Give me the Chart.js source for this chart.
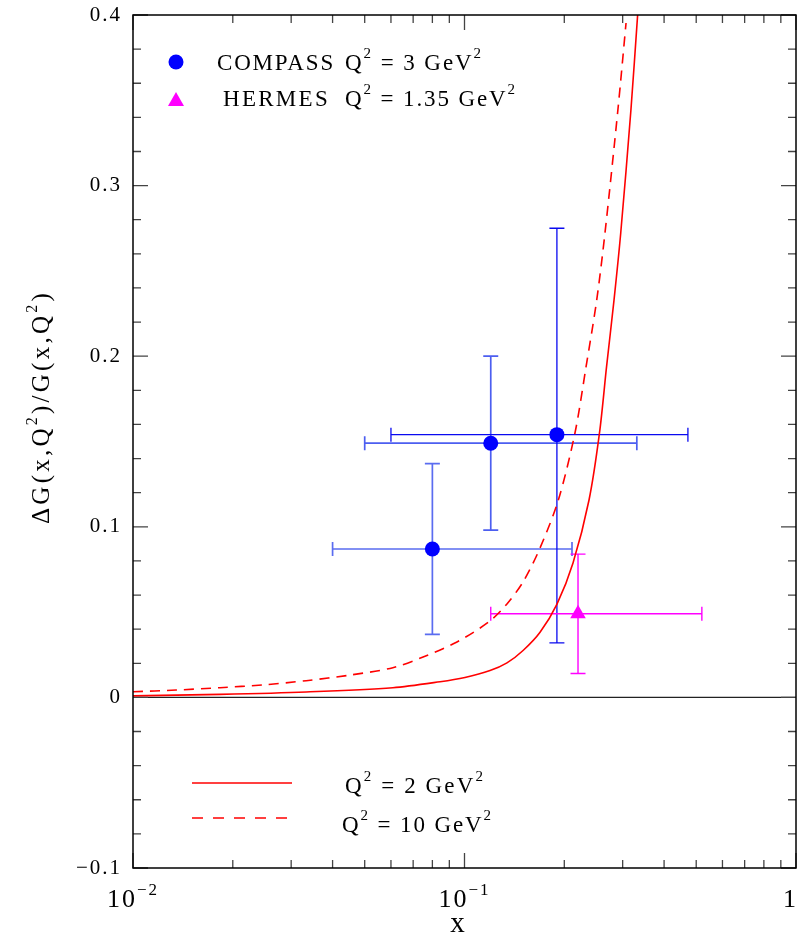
<!DOCTYPE html>
<html><head><meta charset="utf-8">
<script src="https://cdn.jsdelivr.net/npm/chart.js@4/dist/chart.umd.min.js"></script>
<style>html,body{margin:0;padding:0;background:#fff}#wrap{width:798px;height:937px}</style>
</head><body><div id="wrap"><canvas id="c" width="798" height="937"></canvas></div>
<script>
// ---- data ----
const compassX     = [0.080, 0.120, 0.190];
const compassY     = [0.087, 0.149, 0.154];
const compassXLow  = [0.040, 0.050, 0.060];
const compassXHigh = [0.211, 0.331, 0.472];
const compassYLow  = [0.037, 0.098, 0.032];
const compassYHigh = [0.137, 0.200, 0.275];

const hermesX     = [0.220];
const hermesY     = [0.049];
const hermesXLow  = [0.120];
const hermesXHigh = [0.520];
const hermesYLow  = [0.014];
const hermesYHigh = [0.084];

// Q^2 = 2 GeV^2 (solid)
const q2X = [0.010, 0.0183, 0.0333, 0.0608, 0.0844, 0.1003, 0.1194, 0.1343, 0.1502, 0.169, 0.1901, 0.2125, 0.2375, 0.2554, 0.2682, 0.2825, 0.296, 0.3177, 0.3331];
const q2Y = [0.0009, 0.0018, 0.0032, 0.0057, 0.0092, 0.0117, 0.0157, 0.0202, 0.0275, 0.0382, 0.0547, 0.0788, 0.1157, 0.155, 0.1937, 0.2329, 0.2722, 0.3443, 0.4009];
// Q^2 = 10 GeV^2 (dashed)
const q10X = [0.010, 0.0135, 0.0183, 0.0246, 0.0333, 0.0452, 0.0608, 0.075, 0.0949, 0.1194, 0.1343, 0.1502, 0.169, 0.1919, 0.2154, 0.2326, 0.2505, 0.2653, 0.2902, 0.3071];
const q10Y = [0.0033, 0.0043, 0.0057, 0.0073, 0.0098, 0.0131, 0.0174, 0.0237, 0.0325, 0.0448, 0.0548, 0.0677, 0.0876, 0.1157, 0.155, 0.1937, 0.2329, 0.2722, 0.3443, 0.3953];

const xTickValues = [0.01, 0.1, 1];
const xTickLabels = [['10', '\u22122'], ['10', '\u22121'], ['1', '']];
const yTickValues = [-0.1, 0, 0.1, 0.2, 0.3, 0.4];

// ---- styling ----
const FONT = '"Liberation Serif", "Times New Roman", serif';
const compassBarColors = ['#5a6cf0', '#4c5ef0', '#0a0af0'];
const compassBarWidths = [1.7, 1.7, 1.3];

function fontStr(sz){ return sz + 'px ' + FONT; }
function naturalWidth(ctx, parts, size, supSize){
  let w = 0, n = 0;
  ctx.letterSpacing = '0px';
  for (const [t, sup] of parts){ ctx.font = fontStr(sup ? supSize : size); w += ctx.measureText(t).width; n += t.length; }
  return {w, n};
}
function drawRich(ctx, parts, x, y, size, supSize, raise, target){
  const nat = naturalWidth(ctx, parts, size, supSize);
  const sp = target ? (target - nat.w) / Math.max(1, nat.n) : 0;
  for (const [t, sup] of parts){
    ctx.font = fontStr(sup ? supSize : size);
    ctx.letterSpacing = '0px';
    const w = ctx.measureText(t).width;
    ctx.letterSpacing = sp + 'px';
    ctx.fillText(t, x, y - (sup ? raise : 0));
    x += w + sp * t.length;
  }
  ctx.letterSpacing = '0px';
  return nat.w + sp * nat.n;
}
function pts(xs, ys){ return xs.map((x, i) => ({x, y: ys[i]})); }

const errorBars = {
  id: 'errorBars',
  beforeDatasetsDraw(chart){
    const {ctx, scales:{x, y}} = chart;
    ctx.save();
    ctx.strokeStyle = '#222'; ctx.lineWidth = 1.4;
    ctx.beginPath(); ctx.moveTo(chart.chartArea.left, y.getPixelForValue(0)); ctx.lineTo(chart.chartArea.right, y.getPixelForValue(0)); ctx.stroke();
    function bars(xs, ys, xl, xh, yl, yh, colors, widths){
      for (let i = 0; i < xs.length; i++){
        const px = x.getPixelForValue(xs[i]), py = y.getPixelForValue(ys[i]);
        const x0 = x.getPixelForValue(xl[i]), x1 = x.getPixelForValue(xh[i]);
        const y0 = y.getPixelForValue(yl[i]), y1 = y.getPixelForValue(yh[i]);
        ctx.strokeStyle = colors[i]; ctx.lineWidth = widths[i];
        ctx.beginPath();
        ctx.moveTo(x0, py); ctx.lineTo(x1, py);
        ctx.moveTo(x0, py - 7); ctx.lineTo(x0, py + 7);
        ctx.moveTo(x1, py - 7); ctx.lineTo(x1, py + 7);
        ctx.moveTo(px, y0); ctx.lineTo(px, y1);
        ctx.moveTo(px - 7.5, y0); ctx.lineTo(px + 7.5, y0);
        ctx.moveTo(px - 7.5, y1); ctx.lineTo(px + 7.5, y1);
        ctx.stroke();
      }
    }
    bars(compassX, compassY, compassXLow, compassXHigh, compassYLow, compassYHigh, compassBarColors, compassBarWidths);
    bars(hermesX, hermesY, hermesXLow, hermesXHigh, hermesYLow, hermesYHigh, ['#ff00ff'], [1.4]);
    ctx.restore();
  }
};

const frame = {
  id: 'frame',
  beforeDraw(chart){ chart.ctx.letterSpacing = '2px'; },
  afterDraw(chart){
    const {ctx, chartArea:a, scales:{x, y}} = chart;
    ctx.save();
    ctx.letterSpacing = '0px';
    ctx.strokeStyle = '#444'; ctx.lineWidth = 1.3;
    ctx.beginPath();
    for (let k = -2; k <= 0; k++){
      for (let m = 1; m <= 9; m++){
        const v = m * Math.pow(10, k);
        if (v > 1.0001) break;
        const px = x.getPixelForValue(v);
        const len = m === 1 ? 15 : 8;
        ctx.moveTo(px, a.bottom); ctx.lineTo(px, a.bottom - len);
        ctx.moveTo(px, a.top); ctx.lineTo(px, a.top + len);
      }
    }
    for (let i = 0; i <= 25; i++){
      const v = -0.1 + i * 0.02;
      const py = y.getPixelForValue(v);
      const len = i % 5 === 0 ? 15 : 8;
      ctx.moveTo(a.left, py); ctx.lineTo(a.left + len, py);
      ctx.moveTo(a.right, py); ctx.lineTo(a.right - len, py);
    }
    ctx.stroke();
    ctx.strokeStyle = '#000'; ctx.lineWidth = 1.5;
    ctx.strokeRect(a.left, a.top, a.right - a.left, a.bottom - a.top);

    ctx.fillStyle = '#000';
    ctx.textAlign = 'left'; ctx.textBaseline = 'alphabetic';
    xTickValues.forEach((v, i) => {
      const parts = [[xTickLabels[i][0], false]];
      if (xTickLabels[i][1]) parts.push([xTickLabels[i][1], true]);
      const nat = naturalWidth(ctx, parts, 26, 17).w + 2 * (parts[0][0].length + (parts[1] ? parts[1][0].length : 0));
      let left = x.getPixelForValue(v) - nat / 2;
      if (left + nat > chart.width) left = chart.width - nat;
      drawRich(ctx, parts, left, a.bottom + 39, 26, 17, 12, nat);
    });
    ctx.font = fontStr(29); ctx.textAlign = 'center';
    ctx.fillText('x', (a.left + a.right) / 2 - 7, a.bottom + 64);
    ctx.textAlign = 'left';
    ctx.save();
    ctx.translate(49, 407);
    ctx.rotate(-Math.PI / 2);
    const yParts = [['\u0394G(x,Q', false], ['2', true], [')/G(x,Q', false], ['2', true], [')', false]];
    drawRich(ctx, yParts, -117, 0, 25, 16, 12, 234);
    ctx.restore();

    ctx.fillStyle = '#0000ff';
    ctx.beginPath(); ctx.arc(a.left + 43, a.top + 47, 7.5, 0, Math.PI * 2); ctx.fill();
    ctx.fillStyle = '#ff00ff';
    ctx.beginPath(); ctx.moveTo(a.left + 43, a.top + 77); ctx.lineTo(a.left + 51, a.top + 91); ctx.lineTo(a.left + 35, a.top + 91); ctx.closePath(); ctx.fill();
    ctx.fillStyle = '#000';
    drawRich(ctx, [['COMPASS', false]], a.left + 84, a.top + 55, 23, 15, 12, 118);
    drawRich(ctx, [['Q', false], ['2', true], [' = 3 GeV', false], ['2', true]], a.left + 212, a.top + 55, 23, 15, 12, 138);
    drawRich(ctx, [['HERMES', false]], a.left + 90, a.top + 91, 23, 15, 12, 107);
    drawRich(ctx, [['Q', false], ['2', true], [' = 1.35 GeV', false], ['2', true]], a.left + 212, a.top + 91, 23, 15, 12, 172);

    ctx.strokeStyle = '#ff0000'; ctx.lineWidth = 1.5;
    ctx.beginPath(); ctx.moveTo(a.left + 59, a.bottom - 85); ctx.lineTo(a.left + 159, a.bottom - 85); ctx.stroke();
    ctx.setLineDash([11, 10]);
    ctx.beginPath(); ctx.moveTo(a.left + 59, a.bottom - 50); ctx.lineTo(a.left + 159, a.bottom - 50); ctx.stroke();
    ctx.setLineDash([]);
    drawRich(ctx, [['Q', false], ['2', true], [' = 2 GeV', false], ['2', true]], a.left + 212, a.bottom - 75, 23, 15, 12, 140);
    drawRich(ctx, [['Q', false], ['2', true], [' = 10 GeV', false], ['2', true]], a.left + 209, a.bottom - 36, 23, 15, 12, 151);
    ctx.restore();
  }
};

new Chart(document.getElementById('c'), {
  type: 'scatter',
  data: {
    datasets: [
      { label: 'COMPASS Q2 = 3 GeV2', data: pts(compassX, compassY), pointStyle: 'circle', pointRadius: 7.5, backgroundColor: '#0000ff', borderWidth: 0 },
      { label: 'HERMES Q2 = 1.35 GeV2', data: pts(hermesX, hermesY), pointStyle: 'triangle', pointRadius: 9, backgroundColor: '#ff00ff', borderWidth: 0 },
      { type: 'line', label: 'Q2 = 2 GeV2', data: pts(q2X, q2Y), showLine: true, borderColor: '#ff0000', borderWidth: 1.6, pointRadius: 0, fill: false, tension: 0.3 },
      { type: 'line', label: 'Q2 = 10 GeV2', data: pts(q10X, q10Y), showLine: true, borderColor: '#ff0000', borderWidth: 1.6, borderDash: [10, 7], pointRadius: 0, fill: false, tension: 0.3 }
    ]
  },
  options: {
    responsive: false,
    devicePixelRatio: 1,
    animation: false,
    layout: { autoPadding: false, padding: { top: 15, right: 2, left: 0, bottom: 0 } },
    plugins: { legend: { display: false }, tooltip: { enabled: false } },
    scales: {
      x: {
        type: 'logarithmic', min: 0.01, max: 1,
        grid: { display: false, drawTicks: false }, border: { display: false },
        ticks: { display: false },
        afterFit(s){ s.height = 69; s.paddingLeft = 0; s.paddingRight = 0; s.paddingTop = 0; s.paddingBottom = 0; }
      },
      y: {
        type: 'linear', min: -0.1, max: 0.4,
        afterBuildTicks(s){ s.ticks = yTickValues.map(v => ({value: v})); },
        ticks: {
          color: '#000', padding: 11,
          font: { family: '"Liberation Serif", serif', size: 21 },
          callback: v => Math.abs(v) < 1e-9 ? '0' : v.toFixed(1).replace('-', '\u2212')
        },
        grid: { display: false, drawTicks: false }, border: { display: false },
        afterFit(s){ s.width = 133; s.paddingTop = 0; s.paddingBottom = 0; s.paddingLeft = 0; s.paddingRight = 0; }
      }
    }
  },
  plugins: [errorBars, frame]
});
</script>
</body></html>
